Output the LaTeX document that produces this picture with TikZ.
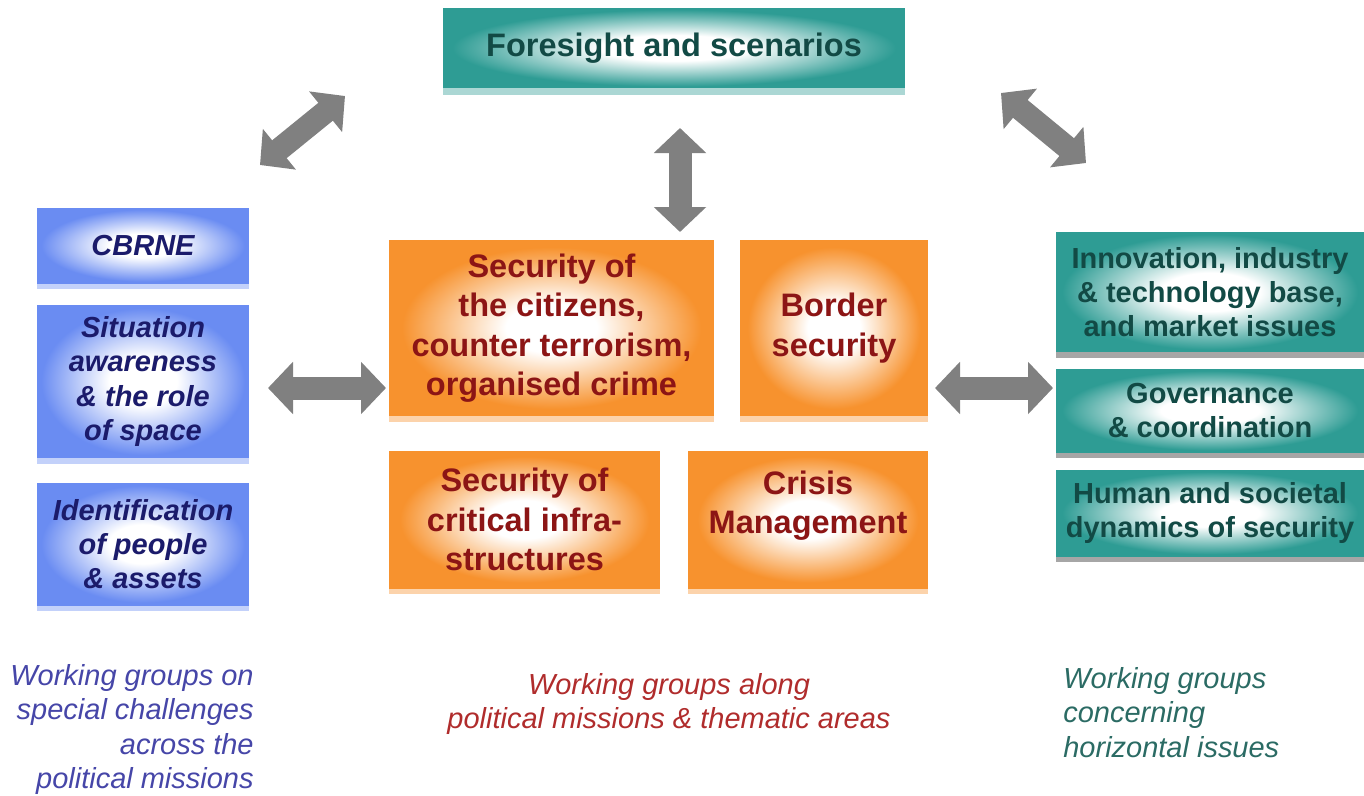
\documentclass[tikz,border=0pt]{standalone}
\usepackage{fontspec}
\setmainfont{Liberation Sans}
\usetikzlibrary{arrows.meta, shadows}

% colours
\definecolor{boxblue}{HTML}{6A8CF2}
\definecolor{boxorange}{HTML}{F7922E}
\definecolor{boxteal}{HTML}{2E9C94}
\definecolor{textblue}{HTML}{1B1B6B}
\definecolor{textred}{HTML}{8C1515}
\definecolor{textteal}{HTML}{124A45}
\definecolor{arrowgray}{HTML}{808080}
\definecolor{capblue}{HTML}{4646A8}
\definecolor{capred}{HTML}{B02C2C}
\definecolor{capteal}{HTML}{2B6B64}

% white centre fading to the box colour
\pgfdeclareradialshading{blueglow}{\pgfpoint{0bp}{0bp}}{color(0bp)=(white); color(8bp)=(white); color(24bp)=(boxblue); color(50bp)=(boxblue)}
\pgfdeclareradialshading{orangeglow}{\pgfpoint{0bp}{0bp}}{color(0bp)=(white); color(7bp)=(white); color(23bp)=(boxorange); color(50bp)=(boxorange)}
\pgfdeclareradialshading{tealglow}{\pgfpoint{0bp}{0bp}}{color(0bp)=(white); color(8bp)=(white); color(24bp)=(boxteal); color(50bp)=(boxteal)}

\tikzset{
  panel/.style={inner sep=2pt, align=center, shade},
  bluepanel/.style={panel, shading=blueglow, text=textblue,
    font=\bfseries\itshape\fontsize{16.5}{19.5}\selectfont,
    drop shadow={shadow xshift=0pt, shadow yshift=-0.12cm, fill=boxblue!40, opacity=1}},
  orangepanel/.style={panel, shading=orangeglow, text=textred,
    font=\bfseries\fontsize{18.5}{22.4}\selectfont,
    drop shadow={shadow xshift=0pt, shadow yshift=-0.12cm, fill=boxorange!40, opacity=1}},
  tealpanel/.style={panel, shading=tealglow, text=textteal,
    font=\bfseries\fontsize{16.5}{19.5}\selectfont,
    drop shadow={shadow xshift=0pt, shadow yshift=-0.12cm, fill=black!35, opacity=1}},
  duplex/.style={draw=arrowgray, line width=0.46cm,
    {Triangle[width=1.02cm,length=0.5cm]}-{Triangle[width=1.02cm,length=0.5cm]}},
  caption/.style={inner sep=0pt, font=\itshape\fontsize{16.5}{19.6}\selectfont}
}

\begin{document}
\begin{tikzpicture}[x=0.02cm, y=-0.02cm]
\useasboundingbox (0,0) rectangle (1364,795);

% Top box
\node[tealpanel, drop shadow={shadow xshift=0pt, shadow yshift=-0.15cm, fill=boxteal!40, opacity=1},
  font=\bfseries\fontsize{18.5}{22}\selectfont,
  minimum width=9.24cm, minimum height=1.6cm] (fore) at (674,48) {Foresight and scenarios};

% Left column
\node[bluepanel, minimum width=4.24cm, minimum height=1.5cm] (cbrne) at (143,245.5) {CBRNE};
\node[bluepanel, minimum width=4.24cm, minimum height=3.06cm] (aware) at (143,381.5)
  {Situation\\awareness\\\& the role\\of space};
\node[bluepanel, minimum width=4.24cm, minimum height=2.44cm] (ident) at (143,544)
  {Identification\\of people\\\& assets};

% Middle block
\node[orangepanel, minimum width=6.5cm, minimum height=3.52cm] (citizens) at (551.5,328)
  {Security of\\the citizens,\\counter terrorism,\\organised crime};
\node[orangepanel, minimum width=3.76cm, minimum height=3.52cm] (border) at (834,328)
  {Border\\security};
\node[orangepanel, minimum width=5.42cm, minimum height=2.74cm] (infra) at (524.5,519.5)
  {Security of\\critical infra-\\structures};
\node[orangepanel, minimum width=4.8cm, minimum height=2.74cm, text depth=0.7cm] (crisis) at (808,519.5)
  {Crisis\\Management};

% Right column
\node[tealpanel, minimum width=6.16cm, minimum height=2.4cm] (innov) at (1210,292)
  {Innovation, industry\\\& technology base,\\and market issues};
\node[tealpanel, minimum width=6.16cm, minimum height=1.66cm] (govern) at (1210,410.5)
  {Governance\\\& coordination};
\node[tealpanel, minimum width=6.16cm, minimum height=1.72cm] (human) at (1210,513)
  {Human and societal\\dynamics of security};

% Arrow ends
\coordinate (tl1) at (260,165);
\coordinate (tl2) at (345,96);
\coordinate (tr1) at (1001,93);
\coordinate (tr2) at (1086,163);
\coordinate (mid1) at (680,128);
\coordinate (mid2) at (680,232);
\coordinate (la1) at (268,388);
\coordinate (la2) at (386,388);
\coordinate (ra1) at (935,388);
\coordinate (ra2) at (1053,388);

% Arrows
\draw[duplex] (tl1) -- (tl2);
\draw[duplex] (tr1) -- (tr2);
\draw[duplex] (mid1) -- (mid2);
\draw[duplex] (la1) -- (la2);
\draw[duplex] (ra1) -- (ra2);

% Captions
\node[caption, text=capblue, align=right, anchor=north east] (capleft) at (254,664)
  {Working groups on\\special challenges\\across the\\political missions};
\node[caption, text=capred, align=center, anchor=north] (capmid) at (669,673)
  {Working groups along\\political missions \& thematic areas};
\node[caption, text=capteal, align=left, anchor=north west] (capright) at (1063,667)
  {Working groups\\concerning\\horizontal issues};
\end{tikzpicture}
\end{document}
